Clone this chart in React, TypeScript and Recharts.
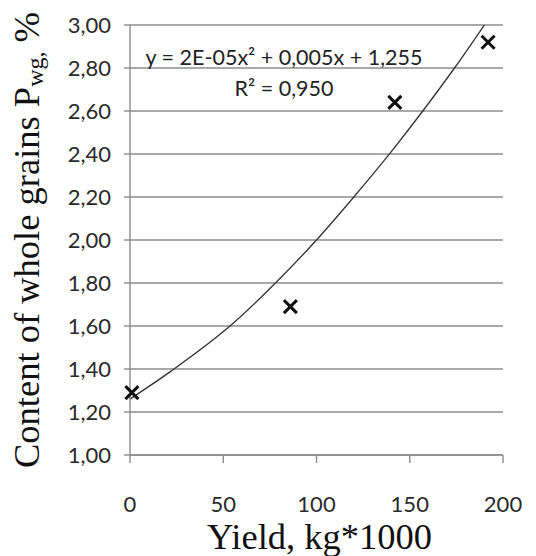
import React from 'react';
import { ComposedChart, XAxis, YAxis, CartesianGrid, Line, Scatter, Customized } from 'recharts';

const xTicks = [0, 50, 100, 150, 200];
const yTicks = [1, 1.2, 1.4, 1.6, 1.8, 2.0, 2.2, 2.4, 2.6, 2.8, 3.0];

const pointX = [1, 86, 142, 192];
const pointY = [1.29, 1.69, 2.64, 2.92];

const trendX = [0, 22, 55, 78, 100, 120, 140, 157, 174, 190];
const trendY = [1.26, 1.39, 1.61, 1.8, 2.0, 2.2, 2.41, 2.6, 2.8, 3.0];

const equationLines = ['y = 2E-05x\u00B2 + 0,005x + 1,255', 'R\u00B2 = 0,950'];

const points = pointX.map((x, i) => ({ x, y: pointY[i] }));
const trend = trendX.map((x, i) => ({ x, y: trendY[i] }));

const fmtY = (v: number) => v.toFixed(2).replace('.', ',');

const GRID = '#8c8c8c';
const TICK_FONT = 'Lato, "Open Sans", sans-serif';
const SERIF = '"Liberation Serif", "Times New Roman", serif';

const XMark = (props: any) => {
  const { cx, cy } = props;
  if (cx == null || cy == null) return null;
  const s = 6.5;
  return (
    <g>
      <line x1={cx - s} y1={cy - s} x2={cx + s} y2={cy + s} stroke="#111" strokeWidth={3} />
      <line x1={cx - s} y1={cy + s} x2={cx + s} y2={cy - s} stroke="#111" strokeWidth={3} />
    </g>
  );
};

const YLabel = (props: any) => {
  const vb = props.viewBox || {};
  const cy = (vb.y ?? 25) + (vb.height ?? 430) / 2;
  return (
    <text
      transform={`translate(39, ${cy}) rotate(-90)`}
      textAnchor="middle"
      fontFamily={SERIF}
      fontSize={36.5}
      fill="#111"
    >
      Content of whole grains P
      <tspan fontSize={24} dy={4}>wg,</tspan>
      <tspan dy={-4}> %</tspan>
    </text>
  );
};

const XLabel = (props: any) => {
  const vb = props.viewBox || {};
  const cx = (vb.x ?? 130) + (vb.width ?? 373) / 2;
  return (
    <text x={cx + 3} y={549} textAnchor="middle" fontFamily={SERIF} fontSize={36.5} fill="#111">
      Yield, kg*1000
    </text>
  );
};

const Equation = () => (
  <g fontFamily={TICK_FONT} fontSize={21.5} fill="#222" textAnchor="middle">
    <text x={284} y={65}>{equationLines[0]}</text>
    <text x={284} y={96}>{equationLines[1]}</text>
  </g>
);

export default function App() {
  return (
    <div style={{ position: 'absolute', left: 0, top: 0, background: '#fff' }}>
      <ComposedChart
        width={536}
        height={556}
        margin={{ top: 25, right: 33, bottom: 0, left: 0 }}
      >
        <CartesianGrid vertical={false} stroke={GRID} strokeWidth={1.4} />
        <XAxis
          type="number"
          dataKey="x"
          domain={[0, 200]}
          ticks={xTicks}
          height={101}
          axisLine={{ stroke: GRID, strokeWidth: 1.4 }}
          tickLine={{ stroke: GRID, strokeWidth: 1.4 }}
          tickSize={8}
          tickMargin={33}
          tick={{ fontSize: 22, fill: '#2a2a2a', fontFamily: TICK_FONT }}
          label={<XLabel />}
        />
        <YAxis
          type="number"
          dataKey="y"
          domain={[1, 3]}
          ticks={yTicks}
          width={130}
          tickFormatter={fmtY}
          axisLine={{ stroke: GRID, strokeWidth: 1.4 }}
          tickLine={{ stroke: GRID, strokeWidth: 1.4 }}
          tickSize={6}
          tickMargin={13}
          tick={{ fontSize: 22, fill: '#2a2a2a', fontFamily: TICK_FONT }}
          label={<YLabel />}
        />
        <Line
          data={trend}
          dataKey="y"
          type="monotone"
          stroke="#333"
          strokeWidth={1.3}
          dot={false}
          activeDot={false}
          isAnimationActive={false}
        />
        <Scatter data={points} dataKey="y" shape={<XMark />} isAnimationActive={false} />
        <Customized component={Equation} />
      </ComposedChart>
    </div>
  );
}
